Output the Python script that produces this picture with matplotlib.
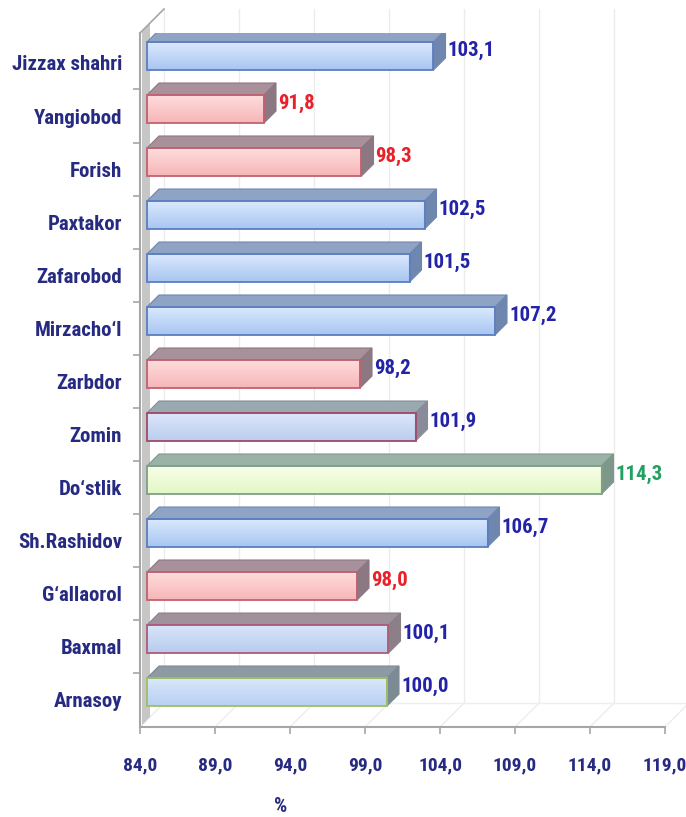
import numpy as np
import matplotlib as mpl
mpl.use('Agg')
import matplotlib.pyplot as plt
from matplotlib import font_manager
from matplotlib.patches import Polygon, Rectangle

# data, top to bottom as in the chart
districts = ["Jizzax shahri", "Yangiobod", "Forish", "Paxtakor", "Zafarobod",
             "Mirzacho\u2018l", "Zarbdor", "Zomin", "Do\u2018stlik", "Sh.Rashidov",
             "G\u2018allaorol", "Baxmal", "Arnasoy"]
values = [103.1, 91.8, 98.3, 102.5, 101.5, 107.2, 98.2, 101.9, 114.3, 106.7, 98.0, 100.1, 100.0]
x_ticks = [84.0, 89.0, 94.0, 99.0, 104.0, 109.0, 114.0, 119.0]
axis_title = "%"

# bar look: (front top, front bottom, edge, top face, side face)
looks = {
    'blue':   ('#dae8fd', '#a8c6f2', '#5a7fbf', '#8fa3c4', '#6f87ae'),
    'red':    ('#ffdcdc', '#f6b6b8', '#c2606e', '#a8919b', '#8c7882'),
    'green':  ('#f7ffe8', '#e2f7c6', '#7f9f8a', '#9ab3a6', '#7d978a'),
    'zomin':  ('#dbe6f9', '#bccdee', '#a04a6a', '#98aab0', '#8a8a9a'),
    'baxmal': ('#d8e5f9', '#b8ccee', '#b05a78', '#a0929c', '#8c8088'),
    'arna':   ('#d8e7fb', '#b8d0f2', '#9cc060', '#8e9aa2', '#7c8a94'),
}
bar_look = ['blue', 'red', 'red', 'blue', 'blue', 'blue', 'red', 'zomin',
            'green', 'blue', 'red', 'baxmal', 'arna']
label_col = {'b': '#2323a8', 'r': '#e8202a', 'g': '#22a060'}
value_col = ['b', 'r', 'r', 'b', 'b', 'b', 'b', 'b', 'g', 'b', 'r', 'b', 'b']

# pick a narrow font if one is installed (the chart uses Arial Narrow-like text)
ttf = font_manager.fontManager.ttflist
names = {f.name for f in ttf}
fstretch = 'normal'
fsize = 13
if 'Liberation Sans Narrow' in names:
    fam, fsize = 'Liberation Sans Narrow', 15
elif 'Roboto Condensed' in names:
    fam, fsize = 'Roboto Condensed', 15
elif any(f.name == 'DejaVu Sans' and f.stretch == 'condensed' for f in ttf):
    fam, fsize, fstretch = 'DejaVu Sans', 13, 'condensed'
else:
    fam = 'Liberation Sans'
plt.rcParams['font.family'] = [fam, 'DejaVu Sans']
plt.rcParams['font.stretch'] = fstretch

navy = '#262a80'
grey = '#a6a6a6'
W, H, DPI = 686, 817, 100

fig = plt.figure(figsize=(W / DPI, H / DPI), dpi=DPI)
ax = fig.add_axes([140 / W, (H - 727) / H, 525 / W, 694 / H])
x0, x1 = 84, 119
y0, y1 = -0.528, 12.566

# pixel -> data units
px = (x1 - x0) / 525
py = (y1 - y0) / 694


def off(x, y, d):
    return (x + d * px, y + d * py)


F, B, D = 7, 12, 24   # bar front depth, bar depth, wall depth (pixels)
h = 28 * py
n = len(values)
ypos = np.arange(n)[::-1]

# back wall gridlines + floor lines
for t in x_ticks:
    ax.plot([t + D * px, t + D * px], [y0 + D * py, y1 + D * py], color='#ececec',
            lw=1, zorder=0, clip_on=False)
    ax.plot([t, t + D * px], [y0, y0 + D * py], color='#ececec', lw=1, zorder=0,
            clip_on=False)
ax.plot([x0 + D * px, x1 + D * px], [y0 + D * py, y0 + D * py], color='#eeeeee',
        lw=1, zorder=0, clip_on=False)

# left wall strip
ax.add_patch(Polygon([off(x0, y0, 2), off(x0, y0, 10), off(x0, y1, 10), off(x0, y1, 2)],
                     closed=True, facecolor='#c6c6c6', edgecolor='none', zorder=1,
                     clip_on=False))
ax.plot([x0, x0 + D * px], [y1, y1 + D * py], color=grey, lw=1.2, zorder=1, clip_on=False)

for i, (y, v) in enumerate(zip(ypos, values)):
    c_top, c_bot, c_edge, c_lid, c_side = looks[bar_look[i]]
    yb, yt = y - h / 2, y + h / 2
    # front face with a soft vertical gradient
    grad = np.linspace(mpl.colors.to_rgb(c_top), mpl.colors.to_rgb(c_bot), 32)[:, None, :]
    fx0, fyb = off(x0, yb, F)
    fx1, fyt = off(v, yt, F)
    ax.imshow(grad, extent=(fx0, fx1, fyb, fyt), aspect='auto', zorder=3,
              interpolation='bilinear', origin='upper')
    ax.add_patch(Rectangle((fx0, fyb), fx1 - fx0, fyt - fyb, facecolor='none',
                           edgecolor=c_edge, lw=1.3, zorder=4))
    # top face
    ax.add_patch(Polygon([off(x0, yt, F), off(v, yt, F), off(v, yt, F + B), off(x0, yt, F + B)],
                         closed=True, facecolor=c_lid, edgecolor=c_side, lw=0.8, zorder=3))
    # side face
    ax.add_patch(Polygon([off(v, yb, F), off(v, yt, F), off(v, yt, F + B), off(v, yb, F + B)],
                         closed=True, facecolor=c_side, edgecolor=c_side, lw=0.8, zorder=3))
    # value label
    lx, ly = off(v, y, F + B + 2)
    ax.text(lx, y + (F + B / 2) * py, f"{v:.1f}".replace('.', ','), ha='left', va='center',
            fontsize=fsize, fontweight='bold', color=label_col[value_col[i]], zorder=5)

ax.set_xlim(x0, x1)
ax.set_ylim(y0, y1)

# axes
for s in ['top', 'right']:
    ax.spines[s].set_visible(False)
for s in ['left', 'bottom']:
    ax.spines[s].set_color(grey)
    ax.spines[s].set_linewidth(1.5)
ax.set_xticks(x_ticks)
ax.set_xticklabels([f"{t:.1f}".replace('.', ',') for t in x_ticks])
ax.set_yticks(ypos)
ax.set_yticklabels(districts)
ax.set_yticks(np.arange(n - 1) + 0.5, minor=True)
ax.tick_params(axis='x', length=5, width=1.2, color=grey, pad=16, labelsize=fsize - 1,
               labelcolor=navy)
ax.tick_params(axis='y', which='major', length=0, pad=13, labelsize=fsize, labelcolor=navy)
ax.tick_params(axis='y', which='minor', length=5, width=1.2, color=grey)
for lab in ax.get_xticklabels() + ax.get_yticklabels():
    lab.set_fontweight('bold')
ax.patch.set_visible(False)

fig.text(281 / W, 1 - 806 / H, axis_title, ha='center', va='center', fontsize=fsize,
         fontweight='bold', color=navy)

fig.savefig('out.png', dpi=DPI)
